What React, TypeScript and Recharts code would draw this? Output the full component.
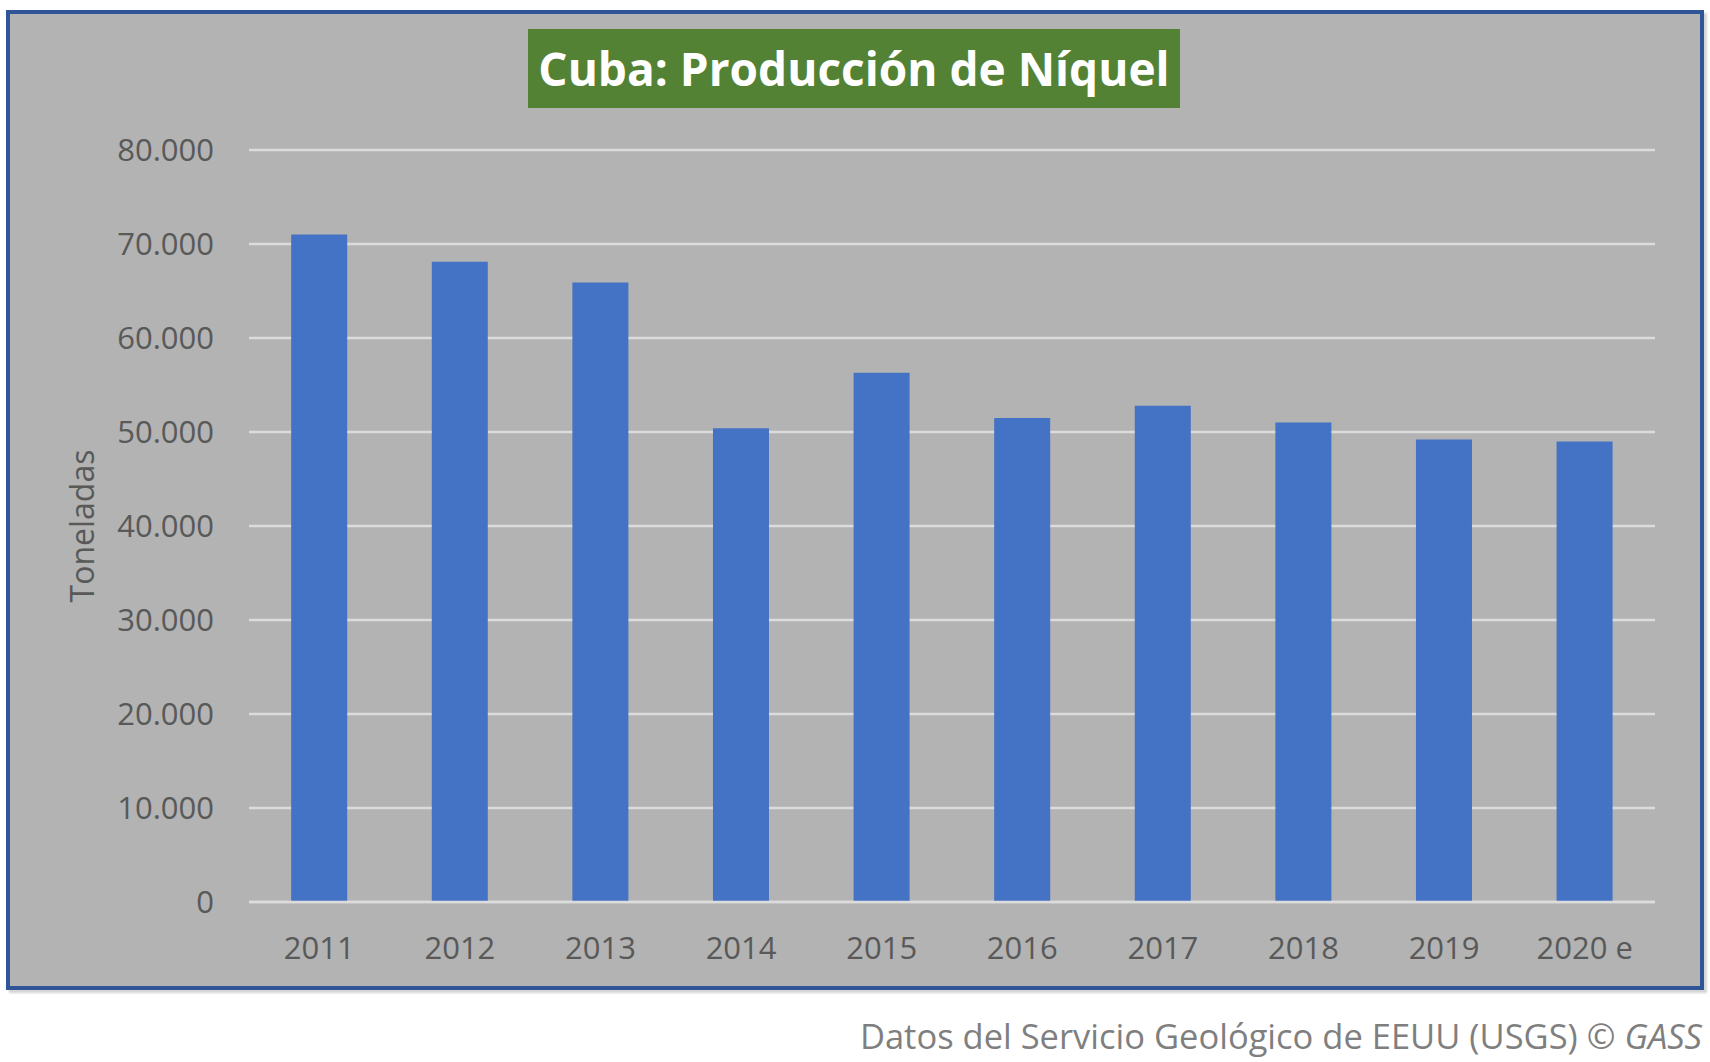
import { BarChart, Bar, XAxis, YAxis, CartesianGrid } from 'recharts'

const years = ['2011', '2012', '2013', '2014', '2015', '2016', '2017', '2018', '2019', '2020 e']
const tonnes = [71000, 68100, 65900, 50400, 56300, 51500, 52800, 51000, 49200, 49000]
const yTicks = [0, 10000, 20000, 30000, 40000, 50000, 60000, 70000, 80000]

const data = years.map((year, i) => ({ year, tonnes: tonnes[i] }))

const fmt = (v: number) => String(v).replace(/\B(?=(\d{3})+(?!\d))/g, '.')

const font = '"Open Sans", sans-serif'
const tickStyle = { fontSize: 31, fill: '#595959', fontFamily: font }

export default function App() {
  return (
    <div style={{ position: 'absolute', left: 0, top: 0, width: 1710, height: 1062, background: '#fff', fontFamily: font }}>
      {/* frame */}
      <div
        style={{
          position: 'absolute', left: 6, top: 10, width: 1698, height: 980, boxSizing: 'border-box',
          border: '4px solid #2F5597', background: '#B2B3B2', boxShadow: '3px 3px 2px #d4d4d4',
        }}
      />
      <div style={{ position: 'absolute', left: 0, top: 0 }}>
        <BarChart
          width={1710}
          height={1062}
          data={data}
          margin={{ top: 150, right: 55, left: 0, bottom: 100 }}
          barCategoryGap="30%"
        >
          <CartesianGrid horizontal vertical={false} stroke="#DCDCDC" strokeWidth={2.5} />
          <XAxis
            dataKey="year"
            height={60}
            tick={tickStyle}
            tickLine={false}
            axisLine={{ stroke: '#DCDCDC', strokeWidth: 2.5 }}
            tickSize={0}
            tickMargin={35}
            interval={0}
          />
          <YAxis
            width={249}
            domain={[0, 80000]}
            ticks={yTicks}
            tick={tickStyle}
            tickFormatter={fmt}
            tickLine={false}
            axisLine={false}
            tickSize={0}
            tickMargin={35}
            label={{ value: 'Toneladas', angle: -90, position: 'center', dx: -42, style: { fontSize: 32, fill: '#595959', fontFamily: font } }}
          />
          <Bar dataKey="tonnes" fill="#4472C4" isAnimationActive={false} />
        </BarChart>
      </div>
      {/* title */}
      <div
        style={{
          position: 'absolute', left: 528, top: 29, width: 652, height: 79, background: '#548235',
          color: '#fff', fontWeight: 700, fontSize: 46, lineHeight: '79px', textAlign: 'center', whiteSpace: 'nowrap',
        }}
      >
        Cuba: Producción de Níquel
      </div>
      {/* source */}
      <div
        style={{
          position: 'absolute', right: 8, top: 1013, color: '#7F7F7F', fontSize: 34.5, lineHeight: '46px', whiteSpace: 'nowrap',
        }}
      >
        Datos del Servicio Geológico de EEUU (USGS) <i>© GASS</i>
      </div>
    </div>
  )
}
